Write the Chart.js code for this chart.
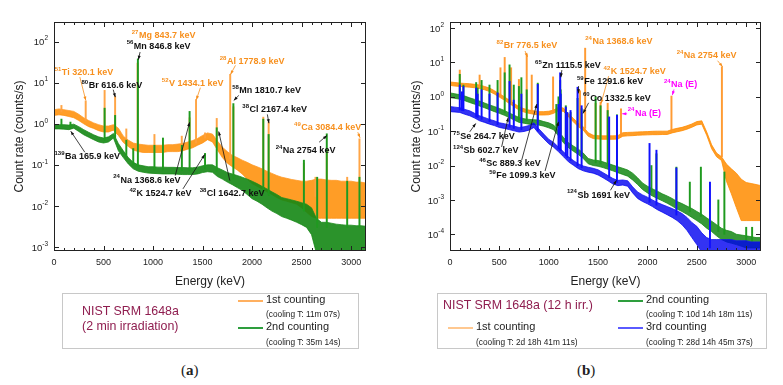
<!DOCTYPE html>
<html>
<head>
<meta charset="utf-8">
<script src="https://cdn.jsdelivr.net/npm/chart.js@4.4.1/dist/chart.umd.min.js"></script>
<style>
  body { margin: 0; background: #fff; width: 783px; height: 385px; position: relative; overflow: hidden;
         font-family: "Liberation Sans", Arial, sans-serif; color: #222; }
  canvas { position: absolute; top: 0; }
  .box { position: absolute; border: 1px solid #c8c8c8; background: #fff; }
  .t { position: absolute; white-space: nowrap; line-height: 1; }
  .big { font-size: 11px; }
  .small { font-size: 8.3px; }
  .nist { font-size: 12.4px; color: #8f1d4f; }
  .sw { position: absolute; width: 25px; height: 1.5px; }
  .cap { position: absolute; font-family: "Liberation Serif", "DejaVu Serif", serif; font-size: 15px; line-height: 1; }
</style>
</head>
<body>
<canvas id="chartA" width="390" height="300" style="left:0"></canvas>
<canvas id="chartB" width="393" height="300" style="left:390px"></canvas>

<div class="box" style="left:62px;top:293px;width:295px;height:54px"></div>
<div class="t nist" style="left:82px;top:305px">NIST SRM 1648a</div>
<div class="t nist" style="left:82px;top:320px">(2 min irradiation)</div>
<div class="sw" style="left:238px;top:300px;background:#ffb060"></div>
<div class="t big" style="left:266px;top:294px">1st counting</div>
<div class="t small" style="left:266px;top:310px">(cooling T: 11m 07s)</div>
<div class="sw" style="left:238px;top:327px;background:#2e9e3e"></div>
<div class="t big" style="left:266px;top:321px">2nd counting</div>
<div class="t small" style="left:266px;top:338px">(cooling T: 35m 14s)</div>

<div class="box" style="left:437px;top:293px;width:328px;height:54px"></div>
<div class="t nist" style="left:443px;top:299px">NIST SRM 1648a (12 h irr.)</div>
<div class="sw" style="left:448px;top:327px;background:#ffc890"></div>
<div class="t big" style="left:476px;top:321px">1st counting</div>
<div class="t small" style="left:476px;top:338px">(cooling T: 2d 18h 41m 11s)</div>
<div class="sw" style="left:618px;top:300px;background:#2e9e3e"></div>
<div class="t big" style="left:646px;top:294px">2nd counting</div>
<div class="t small" style="left:646px;top:310px">(cooling T: 10d 14h 18m 11s)</div>
<div class="sw" style="left:618px;top:327px;background:#5a5aff"></div>
<div class="t big" style="left:646px;top:321px">3rd counting</div>
<div class="t small" style="left:646px;top:338px">(cooling T: 28d 14h 45m 37s)</div>

<div class="cap" style="left:181px;top:363px">(<b>a</b>)</div>
<div class="cap" style="left:577px;top:363px">(<b>b</b>)</div>

<script>
const FONT = '"Liberation Sans", Arial, sans-serif';

// energy channels (keV) shared by every spectrum
const energyGrid = [0, 50, 100, 150, 200, 250, 300, 350,
  400, 450, 500, 550, 600, 650, 700, 750,
  800, 850, 900, 950, 1000, 1050, 1100, 1150,
  1200, 1250, 1300, 1350, 1400, 1450, 1500, 1550,
  1600, 1650, 1700, 1750, 1800, 1850, 1900, 1950,
  2000, 2050, 2100, 2150, 2200, 2250, 2300, 2350,
  2400, 2450, 2500, 2550, 2600, 2650, 2700, 2750,
  2800, 2850, 2900, 2950, 3000, 3050, 3100, 3150];

// (a) 2 min irradiation - 1st counting, upper / lower edge of the noisy trace
const firstHiA = [2.2, 2.3, 2.2, 2.1, 2.0, 1.7, 1.4, 1.2,
  1.05, 0.95, 0.88, 0.88, 0.95, 0.78, 0.5, 0.4,
  0.34, 0.32, 0.31, 0.3, 0.3, 0.3, 0.3, 0.31,
  0.31, 0.32, 0.33, 0.36, 0.39, 0.44, 0.52, 0.6,
  0.56, 0.38, 0.27, 0.21, 0.17, 0.15, 0.13, 0.115,
  0.1, 0.09, 0.08, 0.07, 0.062, 0.055, 0.05, 0.047,
  0.044, 0.042, 0.04, 0.04, 0.042, 0.045, 0.045, 0.043,
  0.042, 0.042, 0.04, 0.04, 0.04, 0.038, 0.038, 0.036];
const firstLoA = [1.6, 1.65, 1.6, 1.5, 1.4, 1.2, 1.0, 0.85,
  0.77, 0.68, 0.63, 0.63, 0.7, 0.52, 0.35, 0.28,
  0.23, 0.21, 0.2, 0.2, 0.2, 0.2, 0.2, 0.21,
  0.21, 0.21, 0.22, 0.24, 0.26, 0.3, 0.34, 0.41,
  0.36, 0.23, 0.15, 0.11, 0.09, 0.075, 0.06, 0.045,
  0.035, 0.03, 0.026, 0.022, 0.019, 0.016, 0.014, 0.013,
  0.012, 0.011, 0.009, 0.007, 0.0055, 0.005, 0.005, 0.005,
  0.005, 0.005, 0.005, 0.005, 0.005, 0.005, 0.005, 0.005];
// (a) 2nd counting
const secondHiA = [0.95, 0.95, 0.95, 0.93, 0.98, 0.85, 0.72, 0.62,
  0.54, 0.48, 0.45, 0.48, 0.58, 0.33, 0.22, 0.15,
  0.115, 0.1, 0.095, 0.09, 0.09, 0.088, 0.088, 0.087,
  0.087, 0.086, 0.086, 0.085, 0.085, 0.088, 0.095, 0.1,
  0.1, 0.085, 0.075, 0.065, 0.06, 0.055, 0.05, 0.045,
  0.04, 0.035, 0.03, 0.026, 0.022, 0.019, 0.016, 0.015,
  0.014, 0.013, 0.012, 0.011, 0.009, 0.005, 0.004, 0.004,
  0.0038, 0.0036, 0.0035, 0.0034, 0.0034, 0.0033, 0.0033, 0.0032];
const secondLoA = [0.75, 0.75, 0.74, 0.72, 0.78, 0.65, 0.54, 0.47,
  0.41, 0.36, 0.34, 0.36, 0.45, 0.22, 0.15, 0.105,
  0.08, 0.07, 0.066, 0.063, 0.062, 0.061, 0.06, 0.06,
  0.06, 0.059, 0.058, 0.058, 0.058, 0.06, 0.065, 0.068,
  0.066, 0.052, 0.045, 0.038, 0.033, 0.028, 0.024, 0.019,
  0.015, 0.013, 0.011, 0.009, 0.0075, 0.0065, 0.0055, 0.005,
  0.0045, 0.004, 0.0035, 0.003, 0.002, 0.0007, 0.0007, 0.0007,
  0.0007, 0.0007, 0.0007, 0.0007, 0.0007, 0.0007, 0.0007, 0.0007];

// peaks: [energy keV, foot, top] in counts/s
const firstPeaksA = [[75, 1.95, 2.8], [320, 1.2, 3.6], [511, 0.75, 6.5], [617, 0.85, 4.6],
  [730, 0.38, 0.75], [844, 0.26, 30], [1014, 0.24, 0.55], [1290, 0.27, 0.5],
  [1369, 0.3, 1.4], [1434, 0.34, 3.9], [1525, 0.45, 0.6], [1643, 0.32, 1.35],
  [1779, 0.14, 16], [1811, 0.12, 2.6], [2113, 0.045, 1.45], [2167, 0.036, 1.1],
  [2523, 0.023, 0.11], [2640, 0.017, 0.05], [2754, 0.014, 0.25], [2960, 0.012, 0.05],
  [3084, 0.011, 0.43]];
const secondPeaksA = [[75, 0.85, 1.3], [166, 0.82, 1.1], [511, 0.39, 2.4], [617, 0.45, 1.6],
  [730, 0.17, 0.4], [800, 0.1, 0.25], [847, 0.09, 38], [1014, 0.075, 0.3],
  [1100, 0.075, 0.45], [1291, 0.072, 0.3], [1369, 0.071, 2.0], [1525, 0.08, 0.19],
  [1643, 0.07, 0.8], [1811, 0.045, 3.1], [2113, 0.02, 1.3], [2167, 0.018, 0.55],
  [2523, 0.0075, 0.13], [2657, 0.003, 0.05], [2754, 0.003, 0.57], [2960, 0.003, 0.04],
  [3084, 0.003, 0.05]];

// (b) 12 h irradiation
const firstHiB = [2.7, 2.6, 2.5, 2.45, 2.4, 2.3, 2.2, 2.0,
  1.8, 1.5, 1.23, 1.0, 0.8, 0.64, 0.51, 0.45,
  0.41, 0.39, 0.37, 0.37, 0.38, 0.41, 0.5, 0.47,
  0.32, 0.235, 0.17, 0.134, 0.09, 0.076, 0.074, 0.073,
  0.073, 0.073, 0.074, 0.09, 0.092, 0.093, 0.095, 0.096,
  0.097, 0.099, 0.1, 0.1, 0.1, 0.112, 0.121, 0.129,
  0.143, 0.162, 0.19, 0.2, 0.095, 0.04, 0.023, 0.018,
  0.011, 0.008, 0.006, 0.004, 0.0032, 0.003, 0.0028, 0.0026];
const firstLoB = [2.15, 2.05, 2.0, 1.95, 1.9, 1.83, 1.74, 1.6,
  1.43, 1.2, 0.98, 0.8, 0.64, 0.51, 0.41, 0.36,
  0.33, 0.31, 0.295, 0.295, 0.3, 0.33, 0.4, 0.375,
  0.26, 0.187, 0.134, 0.107, 0.071, 0.061, 0.059, 0.058,
  0.058, 0.058, 0.059, 0.071, 0.073, 0.074, 0.076, 0.077,
  0.078, 0.079, 0.079, 0.08, 0.08, 0.089, 0.096, 0.103,
  0.114, 0.13, 0.152, 0.16, 0.076, 0.031, 0.018, 0.014,
  0.0035, 0.0015, 0.0006, 0.00025, 0.00025, 0.00025, 0.00025, 0.00025];
const secondHiB = [1.3, 1.22, 1.15, 1.05, 0.93, 0.84, 0.75, 0.66,
  0.58, 0.52, 0.46, 0.4, 0.34, 0.29, 0.25, 0.23,
  0.22, 0.215, 0.21, 0.19, 0.175, 0.15, 0.1, 0.065,
  0.046, 0.037, 0.03, 0.023, 0.016, 0.0145, 0.014, 0.0128,
  0.0115, 0.0103, 0.0092, 0.0083, 0.0074, 0.006, 0.0044, 0.0031,
  0.0025, 0.0021, 0.0018, 0.0015, 0.0013, 0.0011, 0.0009, 0.00078,
  0.00066, 0.00056, 0.00046, 0.00038, 0.0003, 0.00024, 0.00019, 0.00015,
  0.00013, 0.00012, 0.0001, 0.000095, 0.00009, 0.000085, 0.00008, 0.00008];
const secondLoB = [0.95, 0.9, 0.85, 0.77, 0.68, 0.61, 0.54, 0.48,
  0.42, 0.37, 0.33, 0.29, 0.25, 0.21, 0.18, 0.17,
  0.16, 0.155, 0.15, 0.14, 0.125, 0.11, 0.072, 0.046,
  0.033, 0.026, 0.021, 0.016, 0.0112, 0.01, 0.0095, 0.0087,
  0.0078, 0.007, 0.0062, 0.0055, 0.0049, 0.0038, 0.0028, 0.002,
  0.0016, 0.0013, 0.0011, 0.00094, 0.0008, 0.00066, 0.00054, 0.00046,
  0.00038, 0.00031, 0.00025, 0.0002, 0.00015, 0.00012, 0.00009, 0.00007,
  0.00006, 0.000055, 0.00005, 0.000045, 0.00004, 0.00004, 0.00004, 0.00004];
const thirdHiB = [0.52, 0.5, 0.48, 0.43, 0.39, 0.33, 0.28, 0.25,
  0.22, 0.2, 0.175, 0.165, 0.152, 0.14, 0.128, 0.134,
  0.146, 0.175, 0.117, 0.082, 0.058, 0.047, 0.034, 0.025,
  0.018, 0.014, 0.0112, 0.0097, 0.0089, 0.0083, 0.0075, 0.0062,
  0.0051, 0.0042, 0.0037, 0.0038, 0.0036, 0.0024, 0.0017, 0.0014,
  0.0012, 0.001, 0.00084, 0.00073, 0.00064, 0.00056, 0.00048, 0.0004,
  0.00031, 0.00022, 0.00017, 0.00011, 0.00008, 0.00007, 0.00007, 0.00007,
  0.00007, 0.00007, 0.000065, 0.000065, 0.000065, 0.00006, 0.00006, 0.00006];
const thirdLoB = [0.37, 0.36, 0.35, 0.31, 0.28, 0.24, 0.2, 0.18,
  0.16, 0.145, 0.128, 0.12, 0.111, 0.102, 0.094, 0.098,
  0.107, 0.128, 0.085, 0.06, 0.043, 0.034, 0.025, 0.018,
  0.0128, 0.0102, 0.0081, 0.007, 0.0064, 0.006, 0.0053, 0.0044,
  0.0036, 0.0029, 0.0026, 0.0027, 0.0025, 0.0016, 0.0011, 0.0009,
  0.00077, 0.00064, 0.00052, 0.00044, 0.00037, 0.00031, 0.00025, 0.00019,
  0.00013, 0.00008, 0.00005, 0.00003, 0.00003, 0.00003, 0.00003, 0.00003,
  0.00003, 0.00003, 0.00003, 0.00003, 0.00003, 0.00003, 0.00003, 0.00003];

const firstPeaksB = [[99, 2.3, 6], [300, 1.95, 4.3], [511, 1.05, 7], [554, 0.9, 14], [619, 0.68, 7],
  [698, 0.46, 3.2], [777, 0.39, 17], [828, 0.36, 4.3], [1044, 0.36, 3.8],
  [1317, 0.14, 1.5], [1369, 0.12, 26], [1475, 0.067, 0.65], [1525, 0.066, 0.7],
  [1597, 0.065, 0.65], [1732, 0.07, 0.45], [2243, 0.1, 1.05], [2754, 0.018, 7.5]];
const secondPeaksB = [[99, 1.0, 4.5], [136, 0.95, 2.2], [265, 0.7, 2.6], [280, 0.67, 1.8],
  [320, 0.62, 3.0], [400, 0.49, 2.2], [482, 0.4, 3.0], [554, 0.34, 5.0],
  [603, 0.29, 8.5], [646, 0.25, 2.2], [698, 0.21, 2.0], [723, 0.2, 3.6],
  [777, 0.2, 1.6], [889, 0.18, 2.5], [1077, 0.12, 0.6], [1099, 0.09, 1.0],
  [1116, 0.085, 3.0], [1121, 0.085, 1.6], [1173, 0.05, 0.55], [1221, 0.037, 0.35],
  [1292, 0.025, 0.9], [1333, 0.021, 0.45], [1475, 0.012, 1.0], [1525, 0.011, 0.55],
  [1597, 0.0095, 0.4], [1691, 0.0078, 0.3], [2040, 0.0017, 0.01], [2091, 0.0014, 0.022],
  [2293, 0.0008, 0.009], [2429, 0.00045, 0.0033], [2541, 0.00033, 0.009],
  [2718, 0.00012, 0.001], [2779, 0.0001, 0.0065], [3000, 0.00006, 0.00016], [3060, 0.00006, 0.00016]];
const thirdPeaksB = [[99, 0.41, 2.2], [121, 0.4, 1.4], [136, 0.39, 2.0], [265, 0.26, 1.8],
  [280, 0.25, 1.2], [320, 0.22, 1.6], [400, 0.19, 1.2], [482, 0.155, 1.3],
  [603, 0.13, 2.8], [646, 0.12, 0.8], [723, 0.11, 1.2], [889, 0.1, 2.3],
  [1099, 0.03, 0.6], [1116, 0.028, 5.0], [1121, 0.027, 1.2], [1173, 0.019, 0.5],
  [1189, 0.017, 0.35], [1221, 0.014, 0.4], [1292, 0.0098, 1.9], [1333, 0.0086, 0.55],
  [1612, 0.0045, 0.26], [1691, 0.0032, 0.29], [2021, 0.00085, 0.044], [2091, 0.0007, 0.028],
  [2293, 0.00036, 0.0085], [2633, 0.00004, 0.0033]];

const xTickLabels = [0, 500, 1000, 1500, 2000, 2500, 3000];
const yDecadesA = [-3, -2, -1, 0, 1, 2];
const yDecadesB = [-4, -3, -2, -1, 0, 1, 2];

// labels: [mass, text, colour, label E, label rate, arrow-from E, rate, arrow-to E, rate]
const notesA = [
  ['27', 'Mg 843.7 keV', 'o', 785, 142],
  ['56', 'Mn 846.8 keV', 'k', 734, 77, 869, 55.7, 852, 36.4],
  ['51', 'Ti 320.1 keV', 'o', 7, 17.8, 261, 13.7, 321, 3.7],
  ['80', 'Br 616.6 keV', 'k', 278, 8.4, 598, 6.75, 619, 4.45],
  ['52', 'V 1434.1 keV', 'o', 1089, 9.6, 1478, 7.55, 1437, 3.85],
  ['28', 'Al 1778.9 keV', 'o', 1673, 33, 1832, 26.4, 1782, 15.9],
  ['58', 'Mn 1810.7 keV', 'k', 1799, 6.4, 1866, 4.9, 1815, 3.7],
  ['38', 'Cl 2167.4 keV', 'k', 1901, 2.23, 2154, 1.69, 2170, 1.03],
  ['49', 'Ca 3084.4 keV', 'o', 2424, 0.81, 3067, 0.624, 3090, 0.456],
  ['24', 'Na 2754 keV', 'k', 2238, 0.22, 2677, 0.356, 2756, 0.52],
  ['139', 'Ba 165.9 keV', 'k', 5, 0.157, 311, 0.203, 169, 0.66],
  ['24', 'Na 1368.6 keV', 'k', 598, 0.042, 1224, 0.0548, 1369, 1.09],
  ['42', 'K 1524.7 keV', 'k', 761, 0.02, 1302, 0.026, 1521, 0.178],
  ['38', 'Cl 1642.7 keV', 'k', 1471, 0.02, 1775, 0.0414, 1663, 0.649]
];
const notesB = [
  ['82', 'Br 776.5 keV', 'o', 472, 30.7, 760, 21.5, 785, 14.4],
  ['24', 'Na 1368.6 keV', 'o', 1370, 39.3],
  ['24', 'Na 2754 keV', 'o', 2296, 15.7, 2710, 11.2, 2761, 7.5],
  ['65', 'Zn 1115.5 keV', 'k', 862, 8.1, 1133, 6.0, 1123, 3.68],
  ['42', 'K 1524.7 keV', 'o', 1556, 5.5, 1607, 4.0, 1530, 0.64],
  ['59', 'Fe 1291.6 keV', 'k', 1286, 2.81, 1302, 2.05, 1302, 1.26],
  ['24', 'Na (E)', 'm', 2167, 2.24, 2269, 1.64, 2252, 1.12],
  ['60', 'Co 1332.5 keV', 'k', 1347, 0.916, 1404, 0.668, 1347, 0.328],
  ['24', 'Na (E)', 'm', 1800, 0.33, 1794, 0.32, 1744, 0.32],
  ['75', 'Se 264.7 keV', 'k', 31, 0.07, 200, 0.0955, 261, 0.168],
  ['124', 'Sb 602.7 keV', 'k', 31, 0.0274, 523, 0.0348, 590, 0.251],
  ['46', 'Sc 889.3 keV', 'k', 295, 0.0111, 726, 0.0143, 879, 0.612],
  ['59', 'Fe 1099.3 keV', 'k', 397, 0.00497, 963, 0.00696, 1099, 0.187],
  ['124', 'Sb 1691 keV', 'k', 1184, 0.00138, 1625, 0.0019, 1686, 0.0037]
];
const noteColours = { o: '#f7901e', k: '#111', m: '#ff00ff' };

function band(hi, lo, line, fill, order) {
  return [
    { type: 'line', data: energyGrid.map((e, i) => ({ x: e, y: hi[i] })), borderColor: line,
      backgroundColor: fill, borderWidth: 0.8, pointRadius: 0, fill: '+1', order: order },
    { type: 'line', data: energyGrid.map((e, i) => ({ x: e, y: lo[i] })), borderColor: line,
      borderWidth: 0.8, pointRadius: 0, fill: false, order: order }
  ];
}

function peaks(list, colour, order) {
  return { type: 'bar', data: list.map(p => ({ x: p[0], y: [p[1], p[2]] })), backgroundColor: colour,
    barThickness: 1.3, grouped: false, order: order };
}

function arrow(ctx, x1, y1, x2, y2, colour) {
  ctx.strokeStyle = colour; ctx.fillStyle = colour; ctx.lineWidth = 0.8;
  ctx.beginPath(); ctx.moveTo(x1, y1); ctx.lineTo(x2, y2); ctx.stroke();
  const ang = Math.atan2(y2 - y1, x2 - x1);
  ctx.beginPath();
  ctx.moveTo(x2, y2);
  ctx.lineTo(x2 - 4 * Math.cos(ang) + 1.5 * Math.sin(ang), y2 - 4 * Math.sin(ang) - 1.5 * Math.cos(ang));
  ctx.lineTo(x2 - 4 * Math.cos(ang) - 1.5 * Math.sin(ang), y2 - 4 * Math.sin(ang) + 1.5 * Math.cos(ang));
  ctx.closePath(); ctx.fill();
}

function drawNotes(chart, notes) {
  const { ctx, scales: { x, y } } = chart;
  ctx.save();
  notes.forEach(n => {
    const c = noteColours[n[2]];
    if (n.length > 5) {
      arrow(ctx, x.getPixelForValue(n[5]), y.getPixelForValue(n[6]),
        x.getPixelForValue(n[7]), y.getPixelForValue(n[8]), c);
    }
    const px = x.getPixelForValue(n[3]), py = y.getPixelForValue(n[4]);
    ctx.fillStyle = c; ctx.textAlign = 'left'; ctx.textBaseline = 'middle';
    ctx.font = 'bold 6px ' + FONT;
    ctx.fillText(n[0], px, py - 3.5);
    const w = ctx.measureText(n[0]).width;
    ctx.font = 'bold 9px ' + FONT;
    ctx.fillText(n[1], px + w + 0.5, py);
  });
  ctx.restore();
}

function drawAxes(chart, decades, yTitleX) {
  const { ctx, chartArea: a, scales: { x, y } } = chart;
  ctx.save();
  ctx.strokeStyle = '#222'; ctx.lineWidth = 1;
  ctx.strokeRect(a.left + 0.5, a.top + 0.5, a.right - a.left - 1, a.bottom - a.top - 1);
  ctx.beginPath();
  for (let e = 0; e <= 3100; e += 100) {
    const px = Math.round(x.getPixelForValue(e)) + 0.5;
    const len = e % 500 === 0 ? 5 : 3;
    ctx.moveTo(px, a.bottom); ctx.lineTo(px, a.bottom - len);
    ctx.moveTo(px, a.top); ctx.lineTo(px, a.top + len);
  }
  decades.forEach(k => {
    const py = Math.round(y.getPixelForValue(Math.pow(10, k))) + 0.5;
    ctx.moveTo(a.left, py); ctx.lineTo(a.left + 5, py);
    ctx.moveTo(a.right, py); ctx.lineTo(a.right - 5, py);
  });
  ctx.stroke();

  ctx.fillStyle = '#222';
  ctx.textBaseline = 'middle';
  ctx.font = '9px ' + FONT; ctx.textAlign = 'center';
  xTickLabels.forEach(v => ctx.fillText(String(v), x.getPixelForValue(v), a.bottom + 12));
  decades.forEach(k => {
    const py = y.getPixelForValue(Math.pow(10, k));
    const sup = String(k);
    ctx.textAlign = 'left';
    ctx.font = '6.5px ' + FONT; const ws = ctx.measureText(sup).width;
    ctx.font = '9.5px ' + FONT; const wb = ctx.measureText('10').width;
    const right = a.left - 6;
    ctx.fillText('10', right - ws - wb, py + 1);
    ctx.font = '6.5px ' + FONT;
    ctx.fillText(sup, right - ws, py - 3);
  });

  ctx.font = '12px ' + FONT; ctx.textAlign = 'center';
  ctx.fillText('Energy (keV)', (a.left + a.right) / 2, a.bottom + 31);
  ctx.save();
  ctx.translate(yTitleX, (a.top + a.bottom) / 2);
  ctx.rotate(-Math.PI / 2);
  ctx.fillText('Count rate (counts/s)', 0, 0);
  ctx.restore();
  ctx.restore();
}

function makeChart(id, datasets, yMin, yMax, pad, decades, yTitleX, notes) {
  return new Chart(document.getElementById(id), {
    type: 'line',
    data: { datasets: datasets },
    options: {
      responsive: false, animation: false, events: [],
      layout: { padding: pad },
      scales: {
        x: { type: 'linear', min: 0, max: 3150, display: false, offset: false },
        y: { type: 'logarithmic', min: yMin, max: yMax, display: false }
      },
      plugins: { legend: { display: false }, tooltip: { enabled: false } }
    },
    plugins: [{
      id: 'frame',
      afterDatasetsDraw(chart) { drawNotes(chart, notes); drawAxes(chart, decades, yTitleX); }
    }]
  });
}

makeChart('chartA', [
  ...band(firstHiA, firstLoA, '#ff9a2a', 'rgba(255,140,0,0.85)', 6),
  peaks(firstPeaksA, 'rgba(255,160,60,0.95)', 5),
  ...band(secondHiA, secondLoA, '#1e8c1e', 'rgba(20,135,20,0.9)', 4),
  peaks(secondPeaksA, '#1f9a1f', 3)
], 0.0008, 300, { left: 54, right: 24, top: 22, bottom: 49 }, yDecadesA, 20, notesA);

makeChart('chartB', [
  ...band(firstHiB, firstLoB, '#ff8c00', 'rgba(255,140,0,0.85)', 6),
  peaks(firstPeaksB, 'rgba(255,150,40,0.95)', 5),
  ...band(secondHiB, secondLoB, '#1a8c1a', 'rgba(20,135,20,0.85)', 4),
  peaks(secondPeaksB, '#1f9a1f', 3),
  ...band(thirdHiB, thirdLoB, '#1515f0', 'rgba(0,0,240,0.8)', 2),
  peaks(thirdPeaksB, '#1010ff', 1)
], 0.0000326, 150, { left: 60, right: 22, top: 22, bottom: 49 }, yDecadesB, 27, notesB);
</script>
</body>
</html>
